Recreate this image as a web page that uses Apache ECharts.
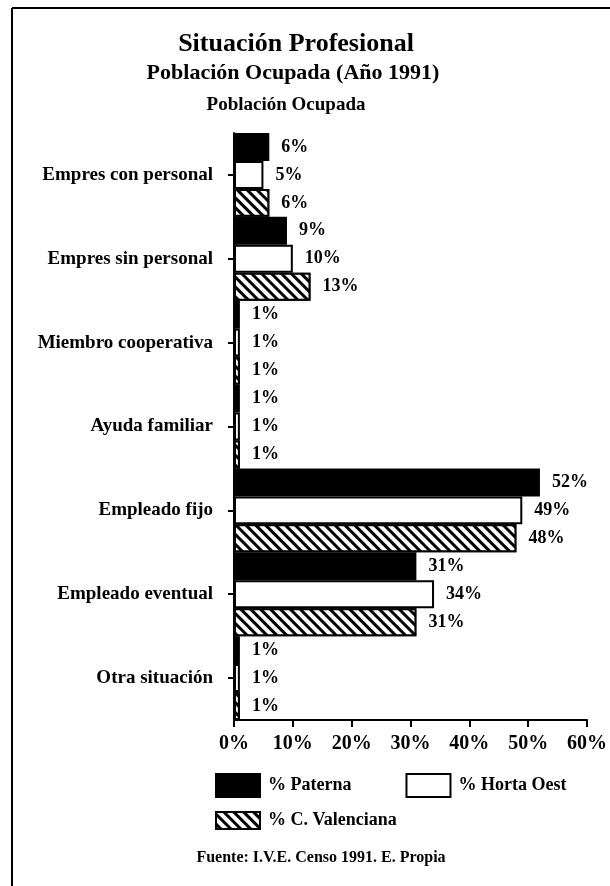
<!DOCTYPE html>
<html>
<head>
<meta charset="utf-8">
<script src="https://cdn.jsdelivr.net/npm/echarts@6/dist/echarts.min.js"></script>
<style>
  html, body { margin: 0; padding: 0; background: #fff; }
  #chart { width: 610px; height: 886px; }
</style>
</head>
<body>
<div id="chart"></div>
<script>
var categorias = ['Empres con personal', 'Empres sin personal', 'Miembro cooperativa', 'Ayuda familiar', 'Empleado fijo', 'Empleado eventual', 'Otra situación'];
var paterna = [6, 9, 1, 1, 52, 31, 1];
var hortaOest = [5, 10, 1, 1, 49, 34, 1];
var cValenciana = [6, 13, 1, 1, 48, 31, 1];
var ticks = [0, 10, 20, 30, 40, 50, 60];

var serif = "'Liberation Serif', 'Times New Roman', serif";

var etiqueta = {
    show: true,
    position: 'right',
    distance: 12,
    formatter: '{c}%',
    color: '#000',
    fontFamily: serif,
    fontWeight: 'bold',
    fontSize: 18
};

var option = {
    backgroundColor: '#fff',
    animation: false,
    title: [
        {
            text: 'Situación Profesional',
            left: 291, top: 26, textAlign: 'center',
            textStyle: { fontFamily: serif, fontWeight: 'bold', fontSize: 26, color: '#000' }
        },
        {
            text: 'Población Ocupada (Año 1991)',
            left: 288, top: 57, textAlign: 'center',
            textStyle: { fontFamily: serif, fontWeight: 'bold', fontSize: 22, color: '#000' }
        },
        {
            text: 'Población Ocupada',
            left: 281, top: 91, textAlign: 'center',
            textStyle: { fontFamily: serif, fontWeight: 'bold', fontSize: 19, color: '#000' }
        },
        {
            text: 'Fuente: I.V.E. Censo 1991. E. Propia',
            left: 316, top: 845, textAlign: 'center',
            textStyle: { fontFamily: serif, fontWeight: 'bold', fontSize: 16, color: '#000' }
        }
    ],
    legend: [
        {
            data: ['% Paterna', '% Horta Oest'],
            left: 210, top: 768,
            orient: 'horizontal',
            icon: 'rect',
            itemWidth: 44, itemHeight: 23, itemGap: 54,
            textStyle: { fontFamily: serif, fontWeight: 'bold', fontSize: 18, color: '#000', padding: [6, 0, 0, 3] }
        },
        {
            data: ['% C. Valenciana'],
            left: 210, top: 806,
            icon: 'rect',
            itemWidth: 44, itemHeight: 17,
            textStyle: { fontFamily: serif, fontWeight: 'bold', fontSize: 18, color: '#000', padding: [6, 0, 0, 3] }
        }
    ],
    grid: { left: 234, right: 10, top: 133, bottom: 166 },
    xAxis: {
        type: 'value',
        min: ticks[0],
        max: ticks[ticks.length - 1],
        interval: 10,
        axisLine: { show: true, lineStyle: { color: '#000', width: 2 } },
        axisTick: { show: true, length: 7, lineStyle: { color: '#000', width: 2 } },
        splitLine: { show: false },
        axisLabel: {
            formatter: '{value}%',
            margin: 14,
            color: '#000',
            fontFamily: serif, fontWeight: 'bold', fontSize: 20
        }
    },
    yAxis: {
        type: 'category',
        inverse: true,
        data: categorias,
        axisLine: { show: true, lineStyle: { color: '#000', width: 2 } },
        axisTick: { show: true, alignWithLabel: true, length: 6, lineStyle: { color: '#000', width: 2 } },
        axisLabel: {
            margin: 21,
            color: '#000',
            fontFamily: serif, fontWeight: 'bold', fontSize: 19
        }
    },
    series: [
        {
            name: '% Paterna',
            type: 'bar',
            data: paterna,
            barGap: '0%',
            barCategoryGap: '0%',
            itemStyle: { color: '#000', borderColor: '#000', borderWidth: 1.5 },
            label: etiqueta
        },
        {
            name: '% Horta Oest',
            type: 'bar',
            data: hortaOest,
            barGap: '0%',
            barCategoryGap: '0%',
            itemStyle: { color: '#fff', borderColor: '#000', borderWidth: 2 },
            label: etiqueta
        },
        {
            name: '% C. Valenciana',
            type: 'bar',
            data: cValenciana,
            barGap: '0%',
            barCategoryGap: '0%',
            itemStyle: {
                color: '#fff',
                borderColor: '#000',
                borderWidth: 2,
                decal: {
                    symbol: 'rect',
                    color: '#000',
                    backgroundColor: '#fff',
                    dashArrayX: [1, 0],
                    dashArrayY: [2.5, 4],
                    rotation: Math.PI / 4
                }
            },
            label: etiqueta
        }
    ],
    graphic: [
        // marco del original
        { type: 'line', shape: { x1: 12, y1: 8, x2: 12, y2: 886 }, style: { stroke: '#000', lineWidth: 2 } },
        { type: 'line', shape: { x1: 12, y1: 8, x2: 610, y2: 8 }, style: { stroke: '#000', lineWidth: 2 } }
    ]
};

var chart = echarts.init(document.getElementById('chart'));
chart.setOption(option);
</script>
</body>
</html>
